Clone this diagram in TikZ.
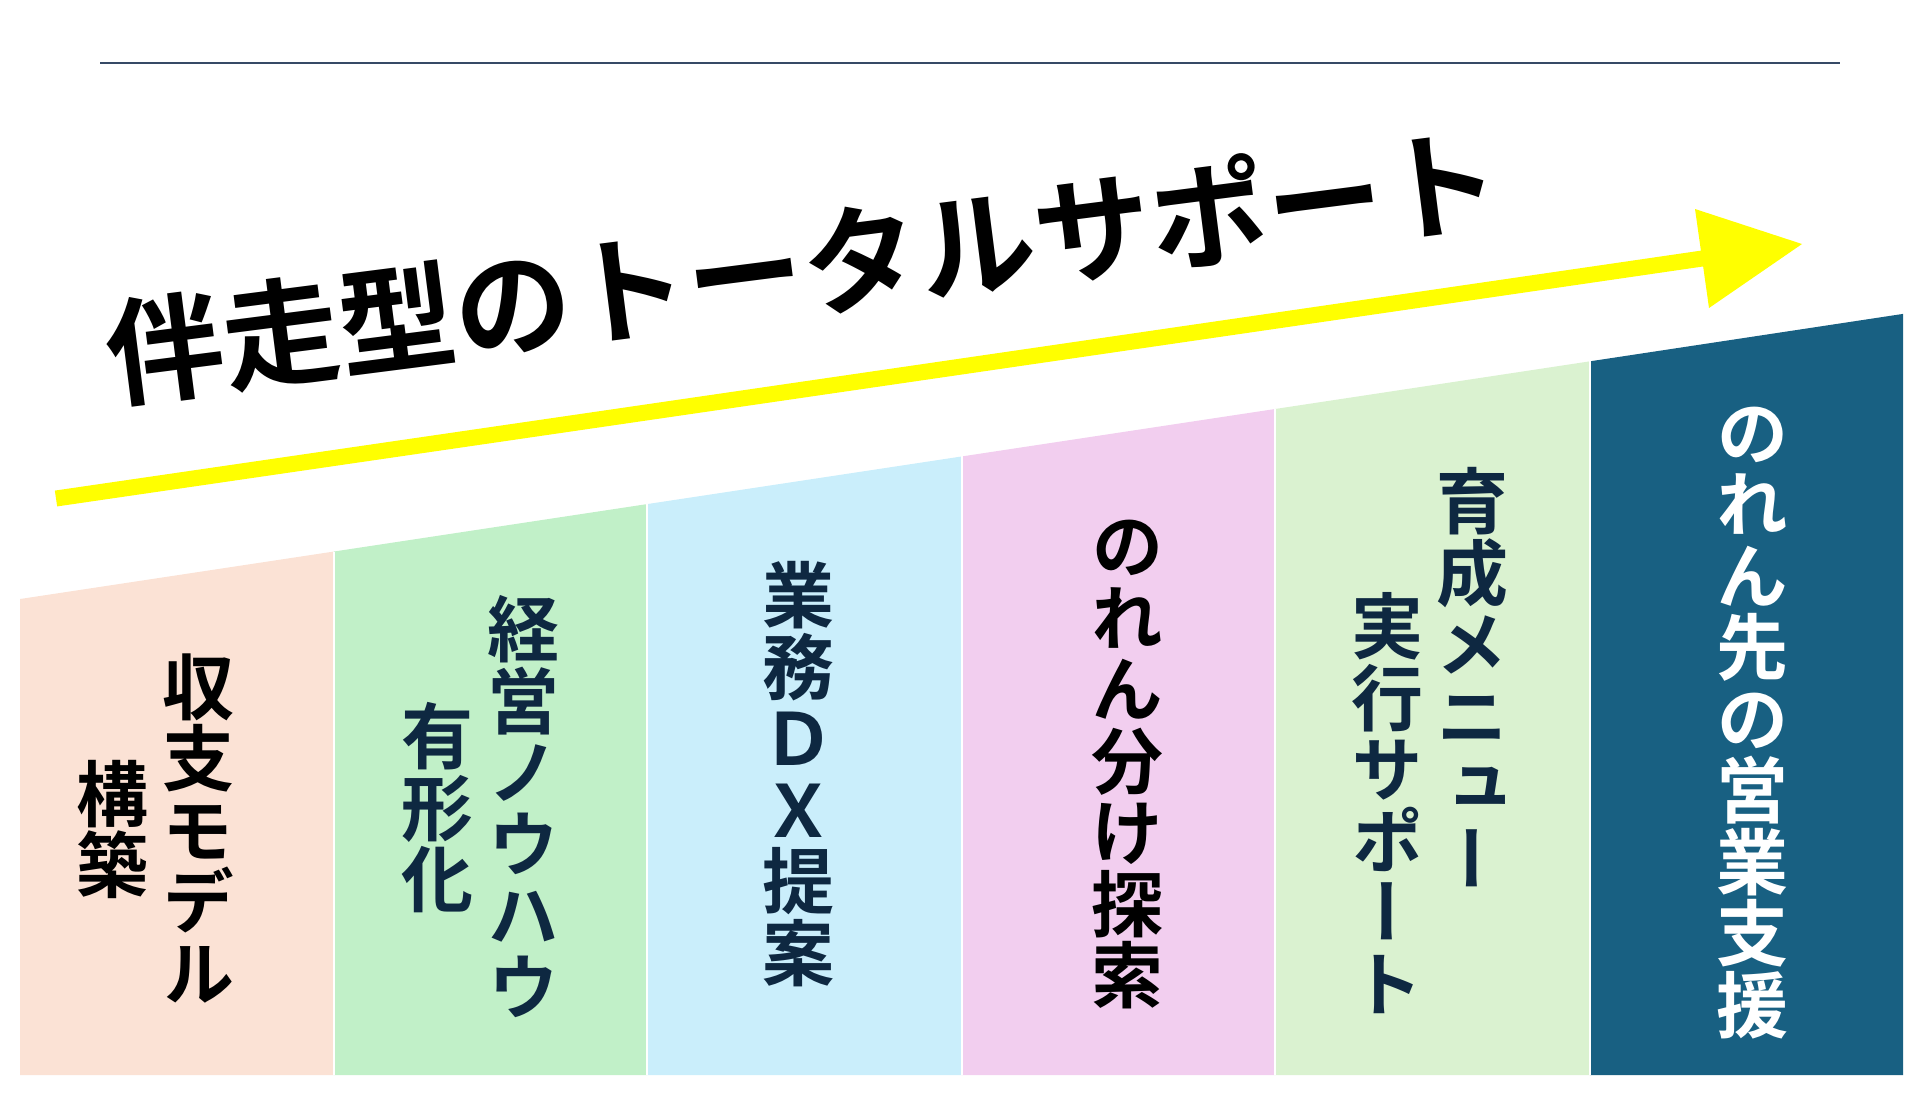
\documentclass[tikz,border=0pt]{standalone}
\usepackage{fontspec}
\newfontfamily\jpb{Noto Sans CJK JP Bold}
\newfontfamily\jpvb{Noto Sans CJK JP Bold}[RawFeature=+vert]
\definecolor{cA}{HTML}{FBE2D5}
\definecolor{cB}{HTML}{C1F0C8}
\definecolor{cC}{HTML}{CAEEFB}
\definecolor{cD}{HTML}{F2CEEF}
\definecolor{cE}{HTML}{DAF2D0}
\definecolor{cF}{HTML}{186082}
\definecolor{navy}{HTML}{0E2841}
\definecolor{rulec}{HTML}{364A66}
\definecolor{arrowy}{HTML}{FFFF00}
\tikzset{
  colbox/.style={draw=white, line width=1pt},
  vch/.style={font=\jpvb\fontsize{72}{72}\selectfont, inner sep=0pt, text height=63.4pt, text depth=8.6pt},
}
\newcommand\vtxt[6]{% name, x, ycenter, n, colour, list
  \foreach \c [count=\i] in {#6} {
    \node[vch, text=#5] (#1-\i) at (#2, {#3 + (\i - (#4+1)/2)*71.5}) {\c};
  }
}
\begin{document}
\begin{tikzpicture}[x=1pt, y=-1pt]
\useasboundingbox (0,0) rectangle (1921,1103);
% top rule
\coordinate (r1) at (100,63);
\coordinate (r2) at (1840,63);
\draw[rulec, line width=2.5pt] (r1) -- (r2);
% columns
\coordinate (t0) at (20,599);
\coordinate (t1) at (334,551.5);
\coordinate (t2) at (647,504.1);
\coordinate (t3) at (962,456.4);
\coordinate (t4) at (1275,409);
\coordinate (t5) at (1590,361.3);
\coordinate (t6) at (1903,313.9);
\fill[cA] (20,1075) -- (t0) -- (t1) -- (334,1075) -- cycle;
\fill[cB] (334,1075) -- (t1) -- (t2) -- (647,1075) -- cycle;
\fill[cC] (647,1075) -- (t2) -- (t3) -- (962,1075) -- cycle;
\fill[cD] (962,1075) -- (t3) -- (t4) -- (1275,1075) -- cycle;
\fill[cE] (1275,1075) -- (t4) -- (t5) -- (1590,1075) -- cycle;
\fill[cF] (1590,1075) -- (t5) -- (t6) -- (1903,1075) -- cycle;
\draw[white, line width=1.2pt] (t1) -- (334,1075) (t2) -- (647,1075) (t3) -- (962,1075) (t4) -- (1275,1075) (t5) -- (1590,1075);
% arrow
\coordinate (a0) at (56,498.5);
\coordinate (a1) at (1703,258.4);
\coordinate (h1) at (1695,209);
\coordinate (h2) at (1709,308);
\coordinate (tip) at (1802,244);
\draw[arrowy, line width=16pt] (a0) -- (a1);
\fill[arrowy] (h1) -- (tip) -- (h2) -- cycle;
% title
\node[rotate=7.3, font=\jpb\fontsize{117}{117}\selectfont, inner sep=0pt, text height=103pt, text depth=14pt] (title) at (803,266.5) {伴走型のトータルサポート};
% column texts
\vtxt{c1r}{198}{830}{5}{black}{収,支,モ,デ,ル}
\vtxt{c1l}{112}{829.5}{2}{black}{構,築}
\vtxt{c2r}{523}{808}{6}{navy}{経,営,ノ,ウ,ハ,ウ}
\vtxt{c2l}{437}{808}{3}{navy}{有,形,化}
\vtxt{c3}{798}{774}{6}{navy}{業,務,Ｄ,Ｘ,提,案}
\vtxt{c4}{1127}{761}{7}{black}{の,れ,ん,分,け,探,索}
\vtxt{c5r}{1472}{680}{6}{navy}{育,成,メ,ニ,ュ,ー}
\vtxt{c5l}{1387}{805}{6}{navy}{実,行,サ,ポ,ー,ト}
\vtxt{c6}{1752}{719}{9}{white}{の,れ,ん,先,の,営,業,支,援}
\end{tikzpicture}
\end{document}
